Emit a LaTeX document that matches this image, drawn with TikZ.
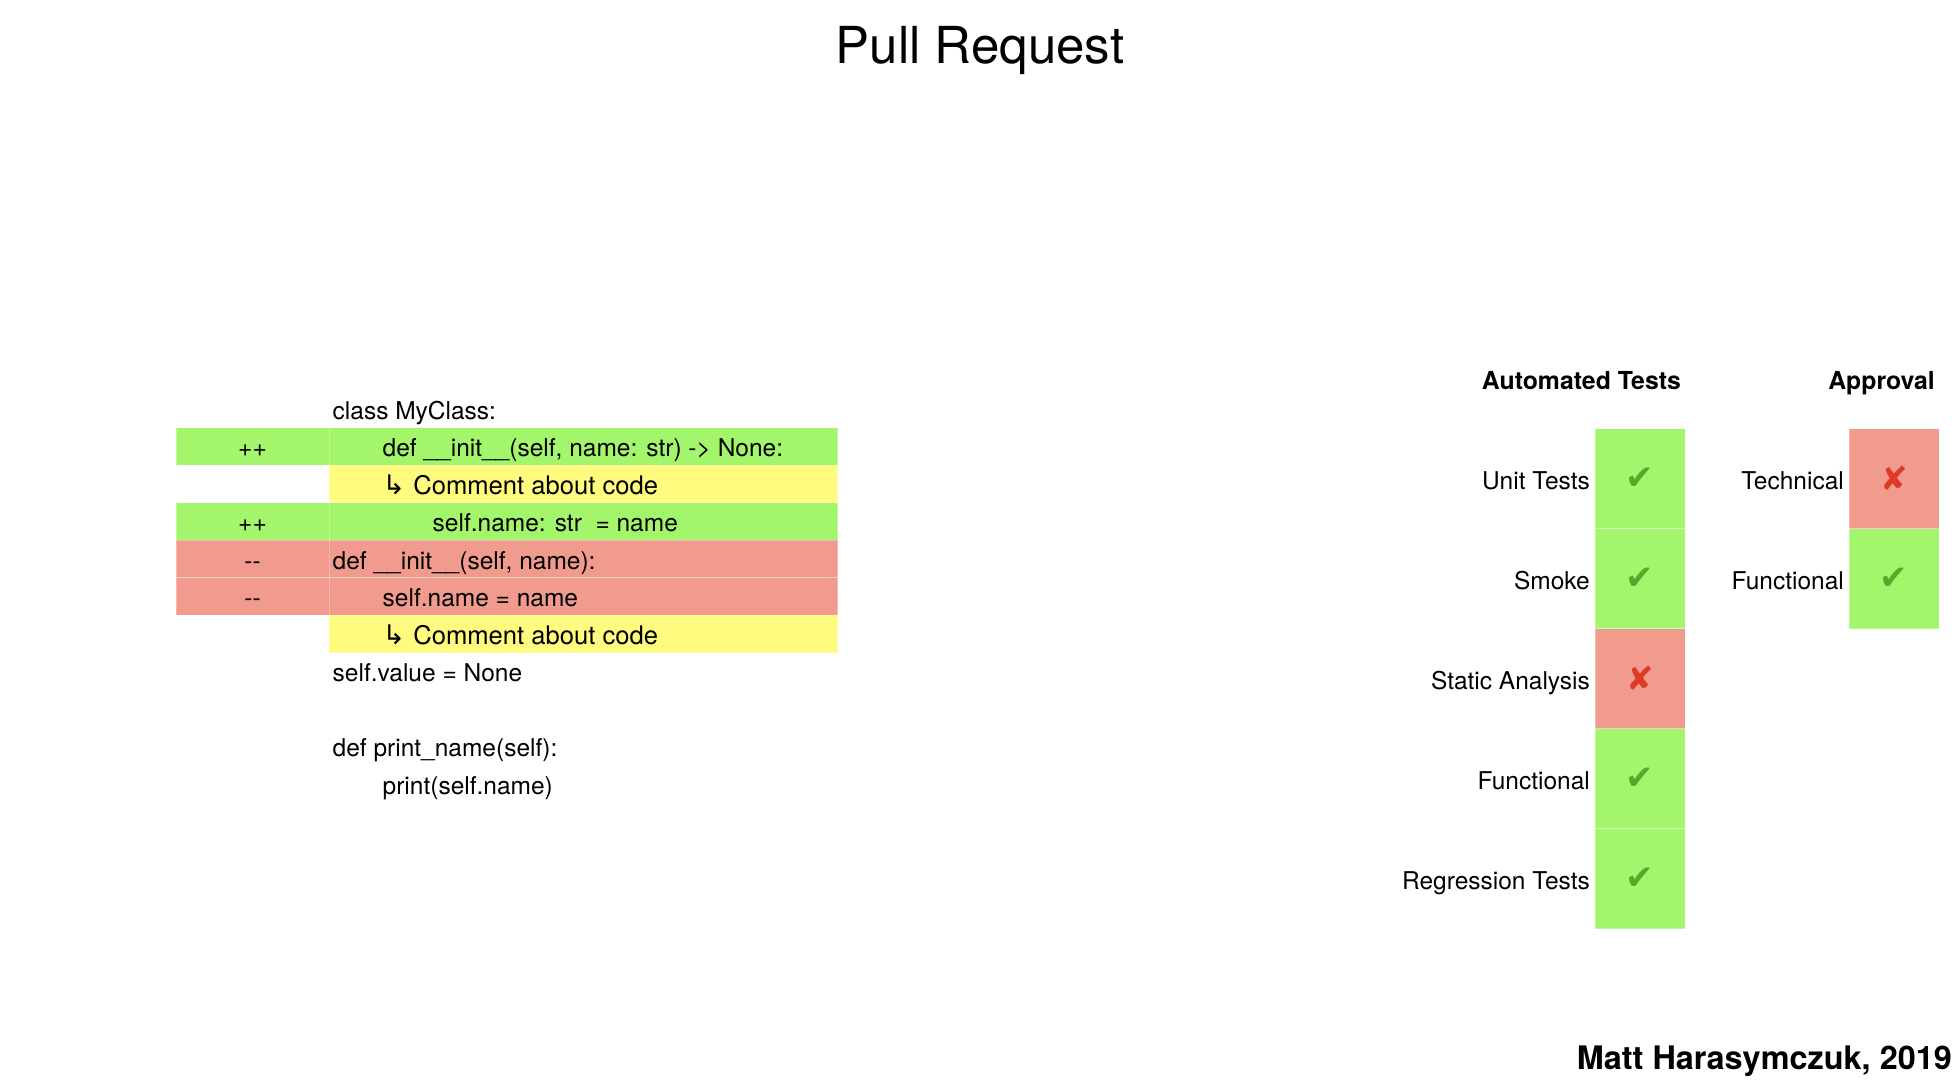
\documentclass[tikz,border=0pt]{standalone}
\usepackage{fontspec}
\setmainfont{TeX Gyre Heros}
\newfontfamily\symfont{DejaVu Sans}
\definecolor{grn}{RGB}{163,245,107}
\definecolor{rd}{RGB}{240,155,141}
\definecolor{yl}{RGB}{255,251,126}
\definecolor{ckgreen}{RGB}{85,170,45}
\definecolor{xred}{RGB}{222,58,38}
\begin{document}
\begin{tikzpicture}[x=1pt,y=-1pt,
  cell/.style={rectangle, inner sep=0pt, outer sep=0pt, anchor=north west, draw=white, draw opacity=0.3, line width=0.6pt},
  signcell/.style={cell, minimum width=153, minimum height=37.5},
  codecell/.style={cell, minimum width=508.5, minimum height=37.5},
  testcell/.style={cell, minimum width=90, minimum height=100},
  code/.style={anchor=base west, inner sep=0pt, font=\fontsize{24.5}{29}\selectfont},
  comment/.style={anchor=base west, inner sep=0pt, font=\fontsize{25.6}{29}\selectfont},
  sign/.style={anchor=base, inner sep=0pt, font=\fontsize{24.5}{29}\selectfont},
  lbl/.style={anchor=base east, inner sep=0pt, font=\fontsize{24.5}{29}\selectfont},
  hdr/.style={anchor=base east, inner sep=0pt, font=\bfseries\fontsize{24.8}{29}\selectfont},
  okmark/.style={inner sep=0pt, font=\symfont\fontsize{34}{34}\selectfont, text=ckgreen},
  badmark/.style={inner sep=0pt, font=\symfont\fontsize{33}{33}\selectfont, text=xred}
]
\useasboundingbox (0,0) rectangle (1960,1080);

% title and footer
\node[anchor=base, inner sep=0pt, font=\fontsize{51}{60}\selectfont] (title) at (980,63) {Pull Request};
\node[anchor=base east, inner sep=0pt, font=\bfseries\fontsize{32.4}{38}\selectfont] (footer) at (1952,1069) {Matt Harasymczuk, 2019};

% diff background cells
\node[signcell, fill=grn] (s1) at (176,427.5) {};
\node[codecell, fill=grn] (c1) at (329,427.5) {};
\node[codecell, fill=yl]  (c2) at (329,465) {};
\node[signcell, fill=grn] (s3) at (176,502.5) {};
\node[codecell, fill=grn] (c3) at (329,502.5) {};
\node[signcell, fill=rd]  (s4) at (176,540) {};
\node[codecell, fill=rd]  (c4) at (329,540) {};
\node[signcell, fill=rd]  (s5) at (176,577.5) {};
\node[codecell, fill=rd]  (c5) at (329,577.5) {};
\node[codecell, fill=yl]  (c6) at (329,615) {};

% diff text
\node[code] (t0) at (332.5,419) {class MyClass:};
\node[sign] (p1) at (252.5,456.5) {++};
\node[code] (t1) at (382.5,456.5) {def \_\_init\_\_(self, name: str) -> None:};
\node[comment] (t2) at (382.5,494) {{\symfont\fontsize{27}{29}\selectfont ↳}\hspace{8pt}Comment about code};
\node[sign] (p3) at (252.5,531.5) {++};
\node[code] (t3) at (432.5,531.5) {self.name: str\ \ = name};
\node[sign] (p4) at (252.5,569) {-\kern0pt-};
\node[code] (t4) at (332.5,569) {def \_\_init\_\_(self, name):};
\node[sign] (p5) at (252.5,606.5) {-\kern0pt-};
\node[code] (t5) at (382.5,606.5) {self.name = name};
\node[comment] (t6) at (382.5,644) {{\symfont\fontsize{27}{29}\selectfont ↳}\hspace{8pt}Comment about code};
\node[code] (t7) at (332.5,681.5) {self.value = None};
\node[code] (t9) at (332.5,756.5) {def print\_name(self):};
\node[code] (t10) at (382.5,794) {print(self.name)};

% automated tests
\node[hdr] (hauto) at (1681,389) {Automated Tests};
\node[testcell, fill=grn] (a1) at (1595,428.75) {};
\node[testcell, fill=grn] (a2) at (1595,528.75) {};
\node[testcell, fill=rd]  (a3) at (1595,628.75) {};
\node[testcell, fill=grn] (a4) at (1595,728.75) {};
\node[testcell, fill=grn] (a5) at (1595,828.75) {};
\node[lbl] (la1) at (1590,489) {Unit Tests};
\node[lbl] (la2) at (1590,589) {Smoke};
\node[lbl] (la3) at (1590,689) {Static Analysis};
\node[lbl] (la4) at (1590,789) {Functional};
\node[lbl] (la5) at (1590,889) {Regression Tests};
\node[okmark]  (ma1) at (a1.center) {✔};
\node[okmark]  (ma2) at (a2.center) {✔};
\node[badmark] (ma3) at (a3.center) {✘};
\node[okmark]  (ma4) at (a4.center) {✔};
\node[okmark]  (ma5) at (a5.center) {✔};

% approval
\node[hdr] (happ) at (1935,389) {Approval};
\node[testcell, fill=rd]  (b1) at (1849,428.75) {};
\node[testcell, fill=grn] (b2) at (1849,528.75) {};
\node[lbl] (lb1) at (1844,489) {Technical};
\node[lbl] (lb2) at (1844,589) {Functional};
\node[badmark] (mb1) at (b1.center) {✘};
\node[okmark]  (mb2) at (b2.center) {✔};
\end{tikzpicture}
\end{document}
